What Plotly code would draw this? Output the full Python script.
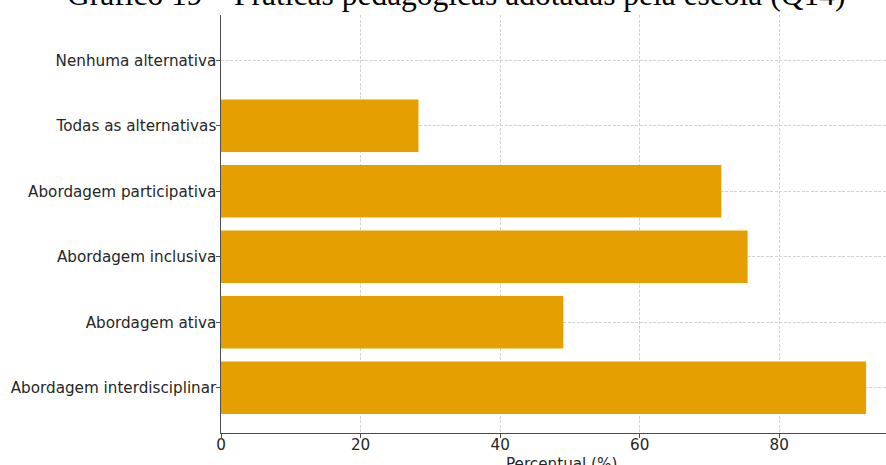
import plotly.graph_objects as go

categories = [
    "Abordagem interdisciplinar",
    "Abordagem ativa",
    "Abordagem inclusiva",
    "Abordagem participativa",
    "Todas as alternativas",
    "Nenhuma alternativa",
]
percentages = [92.45, 49.06, 75.47, 71.70, 28.30, 0.0]
x_ticks = [0, 20, 40, 60, 80]

title_text = "Gráfico 19 – Práticas pedagógicas adotadas pela escola (Q14)"
x_title = "Percentual (%)"

BAR = "#E69F00"
SPINE = "#4d4d4d"
GRID = "#d2d2d2"
TXT = "#262626"
FS = 15.2

W, H = 886, 465
ML, MR, MT, MB = 221, 0, 15, 32
plot_w = W - ML - MR
plot_h = H - MT - MB

x_max = 95.3

fig = go.Figure()
fig.add_trace(go.Bar(
    y=list(range(len(categories))),
    x=percentages,
    orientation="h",
    width=0.8,
    marker=dict(color=BAR, line=dict(width=0)),
    hoverinfo="skip",
))

axis_common = dict(
    showgrid=True, gridcolor=GRID, griddash="3px,1.5px", gridwidth=0.8,
    zeroline=False,
    showline=True, linecolor=SPINE, linewidth=1.3,
    ticks="outside", ticklen=3.5, tickwidth=1, tickcolor=SPINE,
    layer="above traces",
    automargin=False,
    tickfont=dict(family="DejaVu Sans", size=FS, color=TXT),
)

fig.update_layout(
    width=W, height=H,
    margin=dict(l=ML, r=MR, t=MT, b=MB, pad=0),
    paper_bgcolor="white",
    plot_bgcolor="white",
    showlegend=False,
    font=dict(family="DejaVu Sans", size=FS, color=TXT),
    xaxis=dict(
        range=[0, x_max],
        tickvals=x_ticks,
        ticktext=[str(v) for v in x_ticks],
        ticklabelstandoff=-6,
        **axis_common,
    ),
    yaxis=dict(
        range=[-0.69, 5.69],
        tickvals=list(range(len(categories))),
        ticktext=categories,
        ticklabelstandoff=-3,
        **axis_common,
    ),
)

# Title (partially cut off at top, as in the reference)
fig.add_annotation(
    text=title_text, xref="paper", yref="paper",
    x=(456 - ML) / plot_w, y=1 + (MT + 5) / plot_h,
    xanchor="center", yanchor="middle", showarrow=False,
    font=dict(family="Liberation Serif", size=31.5, color="black"),
)

# x-axis title, centred on the full (cropped) axes width
fig.add_annotation(
    text=x_title, xref="paper", yref="paper",
    x=(561 - ML) / plot_w, y=-(453 - (H - MB)) / plot_h,
    xanchor="center", yanchor="top", showarrow=False,
    font=dict(family="DejaVu Sans", size=FS, color=TXT),
)

fig.write_html(
    "out.html",
    config={"displayModeBar": False},
    post_script="document.body.style.margin='0';document.body.style.overflow='hidden';",
)
